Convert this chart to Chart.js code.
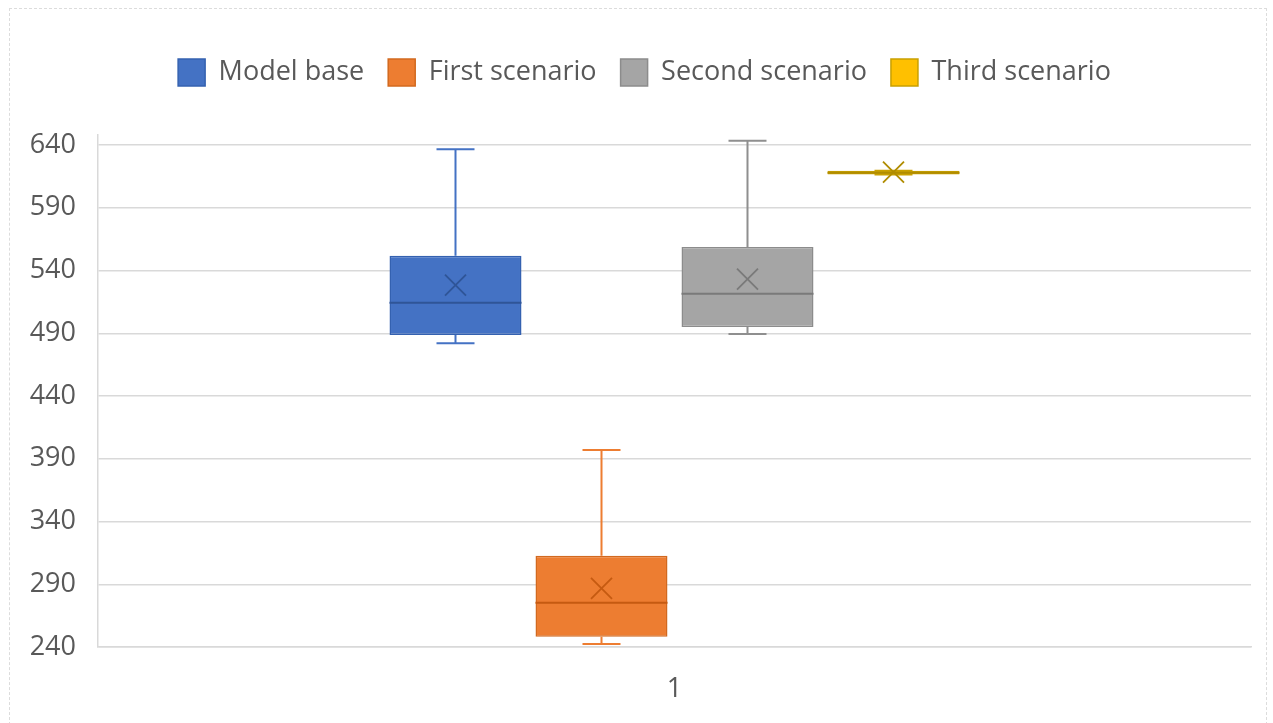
<!DOCTYPE html>
<html>
<head>
<meta charset="utf-8">
<script src="https://cdn.jsdelivr.net/npm/chart.js@4.4.1/dist/chart.umd.min.js"></script>
<style>
  html, body { margin: 0; padding: 0; background: #fff; }
  #frame { position: absolute; left: 9px; top: 8px; width: 1256px; height: 730px; border: 1px dashed #dcdcdc; }
  #wrap { position: absolute; left: 0; top: 0; width: 1273px; height: 723px; }
</style>
</head>
<body>
<div id="frame"></div>
<div id="wrap"><canvas id="boxChart"></canvas></div>
<script>
// Box plot values
const categories = ["1"];
const seriesNames = ["Model base", "First scenario", "Second scenario", "Third scenario"];
const minVals = [482, 242.4, 489.4, 616.5];
const q1Vals = [488.6, 248.2, 495, 616.5];
const medianVals = [514.3, 275.3, 521.5, 618];
const q3Vals = [551.8, 312.7, 558.7, 619.5];
const maxVals = [636.6, 397, 643.4, 619.5];
const meanVals = [528.4, 286.8, 533.2, 618.5];
const yTicks = [240, 290, 340, 390, 440, 490, 540, 590, 640];

// colours per series
const fillColors = ["#4472C4", "#ED7D31", "#A5A5A5", "#FFC000"];
const edgeColors = ["#3461B0", "#D2691F", "#8C8C8C", "#C9A000"];
const whiskerColors = ["#4472C4", "#ED7D31", "#8F8F8F", "#C9A000"];
const markColors = ["#2F5597", "#C55A11", "#7A7A7A", "#B08C00"];

Chart.defaults.font.family = "'Open Sans', sans-serif";
Chart.defaults.color = "#595959";

// force the legend band height and nudge it right, as in the reference
const legendBand = {
  id: "legendBand",
  beforeLayout(chart) {
    const lg = chart.legend;
    if (lg && !lg._patched) {
      const fit = lg.fit;
      lg.fit = function () { fit.call(this); this.height = 100; };
      lg._patched = true;
    }
  },
  afterLayout(chart) {
    const lg = chart.legend;
    if (lg) { lg.left += 9; lg.right += 9; }
  }
};

// whiskers, median and mean marks on top of the floating bars
const boxWhiskers = {
  id: "boxWhiskers",
  afterDatasetsDraw(chart) {
    const ctx = chart.ctx;
    const y = chart.scales.y;
    chart.data.datasets.forEach((ds, i) => {
      const bar = chart.getDatasetMeta(i).data[0];
      const x = bar.x, half = bar.width / 2, cap = 19;
      const pMax = y.getPixelForValue(maxVals[i]);
      const pMin = y.getPixelForValue(minVals[i]);
      const pQ1 = y.getPixelForValue(q1Vals[i]);
      const pQ3 = y.getPixelForValue(q3Vals[i]);
      ctx.save();
      ctx.strokeStyle = whiskerColors[i];
      ctx.lineWidth = 2;
      ctx.beginPath();
      ctx.moveTo(x, pMax); ctx.lineTo(x, pQ3);
      ctx.moveTo(x, pQ1); ctx.lineTo(x, pMin);
      ctx.moveTo(x - cap, pMax); ctx.lineTo(x + cap, pMax);
      ctx.moveTo(x - cap, pMin); ctx.lineTo(x + cap, pMin);
      ctx.stroke();
      // median
      const pMed = y.getPixelForValue(medianVals[i]);
      ctx.strokeStyle = markColors[i];
      ctx.beginPath();
      ctx.moveTo(x - half, pMed); ctx.lineTo(x + half, pMed);
      ctx.stroke();
      // mean cross
      const pMean = y.getPixelForValue(meanVals[i]);
      const s = 10.5;
      ctx.lineWidth = 1.8;
      ctx.beginPath();
      ctx.moveTo(x - s, pMean - s); ctx.lineTo(x + s, pMean + s);
      ctx.moveTo(x + s, pMean - s); ctx.lineTo(x - s, pMean + s);
      ctx.stroke();
      ctx.restore();
    });
  }
};

const datasets = seriesNames.map((name, i) => ({
  label: name,
  data: [[q1Vals[i], q3Vals[i]]],
  backgroundColor: fillColors[i],
  borderColor: edgeColors[i],
  borderWidth: 1.5,
  borderSkipped: false
}));

new Chart(document.getElementById("boxChart"), {
  type: "bar",
  data: { labels: categories, datasets: datasets },
  plugins: [legendBand, boxWhiskers],
  options: {
    responsive: true,
    maintainAspectRatio: false,
    animation: false,
    categoryPercentage: 0.5065,
    barPercentage: 0.904,
    layout: { padding: { top: 35, left: 20, right: 22, bottom: 0 } },
    plugins: {
      tooltip: { enabled: false },
      legend: {
        position: "top",
        labels: { boxWidth: 27, boxHeight: 27, padding: 24, font: { size: 27 }, color: "#595959" }
      }
    },
    scales: {
      x: {
        grid: { display: false, drawTicks: false },
        border: { display: true, color: "#d9d9d9", width: 1.5 },
        ticks: { padding: 26, font: { size: 27 }, color: "#595959" },
        afterFit(scale) { scale.height = 76; scale.paddingLeft = 0; scale.paddingRight = 0; }
      },
      y: {
        min: 240,
        max: 648,
        afterBuildTicks(scale) { scale.ticks = yTicks.map(v => ({ value: v })); },
        grid: { color: "#d9d9d9", lineWidth: 1.5, drawTicks: false },
        border: { display: true, color: "#d9d9d9", width: 1.5 },
        ticks: { padding: 22, font: { size: 27 }, color: "#595959" },
        afterFit(scale) { scale.width = 78; scale.paddingTop = 0; scale.paddingBottom = 0; }
      }
    }
  }
});
</script>
</body>
</html>
